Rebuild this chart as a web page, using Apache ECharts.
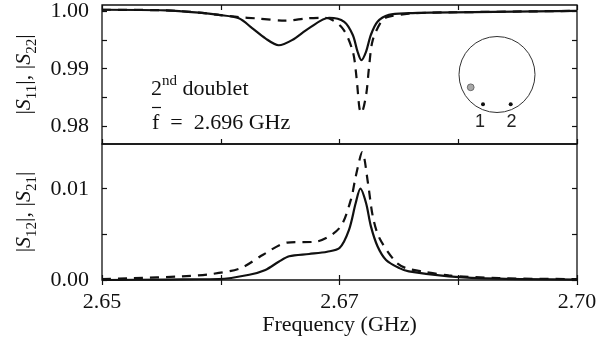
<!DOCTYPE html>
<html>
<head>
<meta charset="utf-8">
<script src="https://cdn.jsdelivr.net/npm/echarts@6/dist/echarts.min.js"></script>
<style>
  html, body { margin: 0; padding: 0; background: #fff; }
  #chart { width: 601px; height: 344px; }
</style>
</head>
<body>
<div id="chart"></div>
<script>
// Reflection magnitudes |S11| (solid) and |S22| (dashed) vs frequency in GHz
const freqS11 = [2.6500, 2.6567, 2.6602, 2.6623, 2.6644, 2.6658, 2.6672, 2.6686, 2.6700, 2.6718,
                 2.6739, 2.6755, 2.6764, 2.6769, 2.6773, 2.6778, 2.6783, 2.6790, 2.6802, 2.6823,
                 2.6847, 2.7000];
const magS11  = [1.0003, 1.0002, 0.9998, 0.9994, 0.9988, 0.9971, 0.9953, 0.9941, 0.9950, 0.9971,
                 0.9989, 0.9982, 0.9959, 0.9930, 0.9915, 0.9930, 0.9959, 0.9982, 0.9994, 0.9997,
                 0.9998, 1.0001];

const freqS22 = [2.6500, 2.6567, 2.6602, 2.6623, 2.6644, 2.6662, 2.6693, 2.6716, 2.6735, 2.6753,
                 2.6764, 2.6768, 2.6771, 2.6773, 2.6778, 2.6781, 2.6785, 2.6795, 2.6802, 2.6823,
                 2.6847, 2.7000];
const magS22  = [1.0003, 1.0002, 0.9998, 0.9994, 0.9990, 0.9988, 0.9984, 0.9988, 0.9989, 0.9971,
                 0.9930, 0.9883, 0.9831, 0.9823, 0.9854, 0.9901, 0.9950, 0.9985, 0.9991, 0.9996,
                 0.9998, 1.0001];

// Transmission magnitudes |S12| (solid) and |S21| (dashed)
const freqS12 = [2.6500, 2.6567, 2.6602, 2.6623, 2.6655, 2.6672, 2.6686, 2.6697, 2.6718, 2.6737,
                 2.6750, 2.6760, 2.6767, 2.6772, 2.6778, 2.6783, 2.6790, 2.6799, 2.6813, 2.6823,
                 2.6865, 2.6918, 2.7000];
const magS12  = [0.00000, 0.00005, 0.00008, 0.00010, 0.00058, 0.00110, 0.00200, 0.00260, 0.00285, 0.00310,
                 0.00350, 0.00550, 0.00840, 0.01000, 0.00840, 0.00590, 0.00370, 0.00220, 0.00130, 0.00094,
                 0.00040, 0.00014, 0.00005];

const freqS21 = [2.6500, 2.6532, 2.6584, 2.6616, 2.6646, 2.6670, 2.6695, 2.6725, 2.6750, 2.6762,
                 2.6767, 2.6774, 2.6780, 2.6785, 2.6792, 2.6809, 2.6820, 2.6837, 2.6865, 2.6918,
                 2.7000];
const magS21  = [0.00010, 0.00020, 0.00040, 0.00066, 0.00130, 0.00280, 0.00410, 0.00420, 0.00570, 0.00880,
                 0.01130, 0.01400, 0.01060, 0.00700, 0.00460, 0.00200, 0.00130, 0.00094, 0.00050, 0.00020,
                 0.00010];

// Axis ticks and their labels
const freqTickValues = [2.65, 2.6625, 2.675, 2.6875, 2.70];
const freqTickLabels = ['2.65', '', '2.67', '', '2.70'];
const reflTickValues = [0.98, 0.985, 0.99, 0.995, 1.00];
const reflLabelValues = [0.98, 0.99, 1.00];
const transTickValues = [0, 0.005, 0.01];
const transLabelValues = [0, 0.01];

const SERIF = '"Liberation Serif", "Times New Roman", serif';
const INK = '#111';

const pairs = (xs, ys) => xs.map((x, i) => [x, ys[i]]);

function freqAxis(gridIndex, position, withLabels) {
  return {
    type: 'value', gridIndex, position,
    min: 2.65, max: 2.70, interval: 0.0125,
    axisLine: { show: false },
    splitLine: { show: false },
    axisTick: { show: true, inside: true, length: 5, lineStyle: { color: INK, width: 1.2 } },
    axisLabel: {
      show: withLabels, margin: 11,
      fontFamily: SERIF, fontSize: 22, color: INK,
      formatter: v => {
        const i = freqTickValues.findIndex(t => Math.abs(t - v) < 1e-6);
        return i >= 0 ? freqTickLabels[i] : '';
      }
    }
  };
}

function magAxis(gridIndex, position, min, max, ticks, labels, name, gap) {
  return {
    type: 'value', gridIndex, position, min, max,
    axisLine: { show: false },
    splitLine: { show: false },
    axisTick: { show: true, inside: true, length: 5, customValues: ticks,
                lineStyle: { color: INK, width: 1.2 } },
    axisLabel: {
      show: position === 'left', customValues: labels, margin: 13,
      fontFamily: SERIF, fontSize: 22, color: INK,
      formatter: v => v.toFixed(2)
    },
    name: name || '',
    nameLocation: 'middle',
    nameRotate: 90,
    nameGap: gap || 0,
    nameTextStyle: {
      rich: {
        b:   { fontFamily: SERIF, fontSize: 22, lineHeight: 30, color: INK },
        s:   { fontFamily: SERIF, fontSize: 22, lineHeight: 30, fontStyle: 'italic', color: INK },
        sub: { fontFamily: SERIF, fontSize: 15, lineHeight: 15, verticalAlign: 'bottom', color: INK }
      }
    }
  };
}

const lineSolid = { color: INK, width: 2.2 };
const lineDashed = { color: INK, width: 2.2, type: [9, 7] };

const chart = echarts.init(document.getElementById('chart'), null, { renderer: 'canvas' });

const supRich = {
  n:   { fontFamily: SERIF, fontSize: 22, fontWeight: 'normal', lineHeight: 30, color: INK },
  sup: { fontFamily: SERIF, fontSize: 15, fontWeight: 'normal', lineHeight: 18, verticalAlign: 'top', color: INK }
};

chart.setOption({
  animation: false,
  backgroundColor: '#fff',
  grid: [
    { left: 102, right: 24, top: 5, height: 139, show: true, borderColor: INK, borderWidth: 1.3 },
    { left: 102, right: 24, top: 144, height: 136, show: true, borderColor: INK, borderWidth: 1.3 }
  ],
  xAxis: [
    freqAxis(0, 'bottom', false),
    freqAxis(0, 'top', false),
    Object.assign(freqAxis(1, 'bottom', true), {
      name: 'Frequency (GHz)', nameLocation: 'middle', nameGap: 31,
      nameTextStyle: { fontFamily: SERIF, fontSize: 22, color: INK }
    }),
    freqAxis(1, 'top', false)
  ],
  yAxis: [
    magAxis(0, 'left', 0.97686, 1.00113, reflTickValues, reflLabelValues,
            '{b||}{s|S}{sub|11}{b||, |}{s|S}{sub|22}{b||}', 62),
    magAxis(0, 'right', 0.97686, 1.00113, reflTickValues, []),
    magAxis(1, 'left', 0, 0.0149, transTickValues, transLabelValues,
            '{b||}{s|S}{sub|12}{b||, |}{s|S}{sub|21}{b||}', 62),
    magAxis(1, 'right', 0, 0.0149, transTickValues, [])
  ],
  title: [
    { text: '{n|2}{sup|nd}{n| doublet}', left: 151, top: 74, padding: 0,
      textStyle: { fontWeight: 'normal', rich: supRich } },
    { text: 'f  =  2.696 GHz', left: 152, top: 112, padding: 0,
      textStyle: { fontFamily: SERIF, fontSize: 22, fontWeight: 'normal', color: INK, lineHeight: 22 } }
  ],
  graphic: [
    // bar over the f (mean frequency)
    { type: 'line', shape: { x1: 152, y1: 107.5, x2: 161, y2: 107.5 },
      style: { stroke: INK, lineWidth: 1.2 } },
    // cavity sketch with the two antenna ports
    { type: 'circle', shape: { cx: 497, cy: 74.5, r: 38 },
      style: { fill: 'none', stroke: '#333', lineWidth: 1 } },
    { type: 'circle', shape: { cx: 470.7, cy: 87.3, r: 3.4 },
      style: { fill: '#a8a8a8', stroke: '#555', lineWidth: 0.8 } },
    { type: 'circle', shape: { cx: 483, cy: 104.3, r: 2 }, style: { fill: '#111' } },
    { type: 'circle', shape: { cx: 510.7, cy: 104.3, r: 2 }, style: { fill: '#111' } },
    { type: 'text', x: 480, y: 122, style: { text: '1', fill: '#222', align: 'center', verticalAlign: 'middle',
      font: '18px "Liberation Sans", Arial, sans-serif' } },
    { type: 'text', x: 511.5, y: 122, style: { text: '2', fill: '#222', align: 'center', verticalAlign: 'middle',
      font: '18px "Liberation Sans", Arial, sans-serif' } }
  ],
  series: [
    { name: '|S11|', type: 'line', xAxisIndex: 0, yAxisIndex: 0, data: pairs(freqS11, magS11),
      showSymbol: false, smooth: 0.3, lineStyle: lineSolid, z: 3 },
    { name: '|S22|', type: 'line', xAxisIndex: 0, yAxisIndex: 0, data: pairs(freqS22, magS22),
      showSymbol: false, smooth: 0.3, lineStyle: lineDashed, z: 2 },
    { name: '|S12|', type: 'line', xAxisIndex: 2, yAxisIndex: 2, data: pairs(freqS12, magS12),
      showSymbol: false, smooth: 0.3, lineStyle: lineSolid, z: 3 },
    { name: '|S21|', type: 'line', xAxisIndex: 2, yAxisIndex: 2, data: pairs(freqS21, magS21),
      showSymbol: false, smooth: 0.3, lineStyle: lineDashed, z: 2 }
  ]
});
</script>
</body>
</html>
